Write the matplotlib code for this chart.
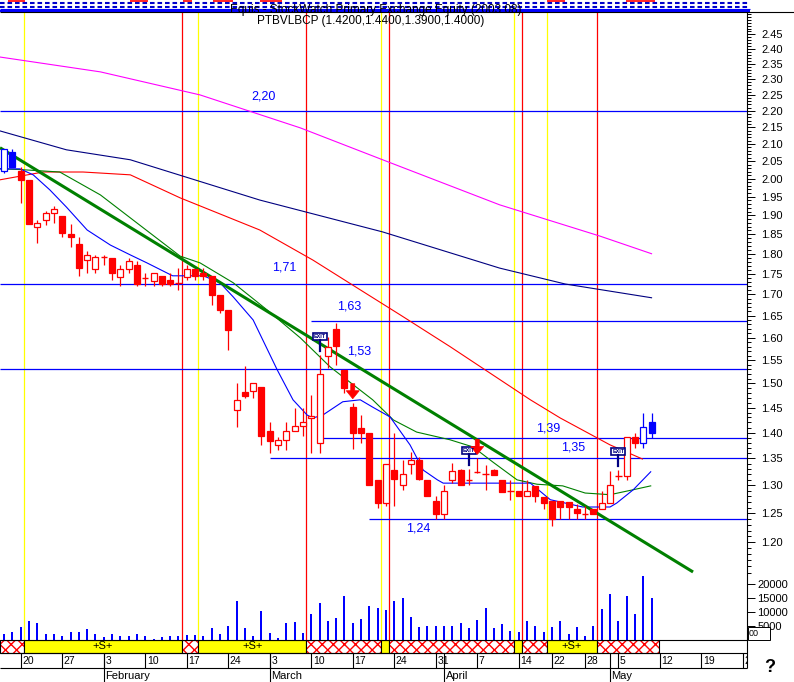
import matplotlib.pyplot as plt
import matplotlib.ticker as mticker
import matplotlib.transforms as mtransforms
from matplotlib.patches import Rectangle, Polygon
from matplotlib.lines import Line2D
import numpy as np
import pandas as pd

plt.rcParams['font.family'] = ['Liberation Sans', 'DejaVu Sans']

# ---------------- data ----------------
holidays = ["2003-04-18", "2003-04-21", "2003-05-01"]
days = [d for d in pd.bdate_range("2003-01-16", "2003-05-09") if str(d.date()) not in holidays]
future_days = list(pd.bdate_range("2003-05-12", "2003-05-30"))

opens = [2.023, 2.077, 2.023, 1.997, 1.870, 1.888, 1.905, 1.898, 1.851, 1.825,
         1.784, 1.761, 1.791, 1.789, 1.743, 1.761, 1.772, 1.739, 1.733, 1.745,
         1.735, 1.727, 1.743, 1.761, 1.752, 1.745, 1.699, 1.664, 1.445, 1.483,
         1.484, 1.493, 1.403, 1.376, 1.386, 1.403, 1.414, 1.428, 1.379, 1.559,
         1.619, 1.529, 1.452, 1.409, 1.399, 1.310, 1.269, 1.328, 1.300, 1.339,
         1.348, 1.310, 1.271, 1.248, 1.310, 1.328, 1.310, 1.325, 1.321, 1.328,
         1.310, 1.290, 1.290, 1.281, 1.298, 1.278, 1.271, 1.271, 1.270, 1.258,
         1.249, 1.258, 1.258, 1.269, 1.317, 1.317, 1.391, 1.379, 1.420]
highs = [2.085, 2.085, 2.033, 1.997, 1.888, 1.912, 1.925, 1.898, 1.877, 1.842,
         1.807, 1.796, 1.797, 1.789, 1.772, 1.789, 1.782, 1.753, 1.753, 1.745,
         1.753, 1.764, 1.772, 1.761, 1.764, 1.745, 1.699, 1.664, 1.500, 1.537,
         1.500, 1.493, 1.420, 1.392, 1.420, 1.449, 1.449, 1.476, 1.561, 1.602,
         1.632, 1.529, 1.460, 1.435, 1.400, 1.310, 1.339, 1.399, 1.347, 1.363,
         1.353, 1.310, 1.280, 1.300, 1.341, 1.330, 1.331, 1.350, 1.337, 1.330,
         1.310, 1.310, 1.290, 1.310, 1.298, 1.278, 1.271, 1.271, 1.270, 1.266,
         1.262, 1.258, 1.290, 1.327, 1.328, 1.391, 1.400, 1.440, 1.440]
lows = [2.017, 2.033, 1.934, 1.877, 1.827, 1.873, 1.879, 1.842, 1.816, 1.745,
        1.753, 1.751, 1.772, 1.735, 1.719, 1.751, 1.719, 1.719, 1.719, 1.720,
        1.719, 1.710, 1.735, 1.735, 1.735, 1.676, 1.655, 1.572, 1.412, 1.470,
        1.470, 1.376, 1.360, 1.366, 1.366, 1.403, 1.394, 1.360, 1.360, 1.533,
        1.540, 1.480, 1.369, 1.379, 1.300, 1.260, 1.262, 1.262, 1.292, 1.320,
        1.310, 1.280, 1.240, 1.240, 1.304, 1.300, 1.300, 1.322, 1.292, 1.319,
        1.288, 1.274, 1.280, 1.281, 1.270, 1.258, 1.227, 1.240, 1.240, 1.240,
        1.240, 1.248, 1.258, 1.269, 1.310, 1.309, 1.370, 1.370, 1.390]
closes = [2.085, 2.033, 1.997, 1.877, 1.879, 1.905, 1.917, 1.853, 1.842, 1.764,
          1.796, 1.791, 1.791, 1.753, 1.761, 1.782, 1.725, 1.739, 1.753, 1.725,
          1.725, 1.727, 1.761, 1.745, 1.745, 1.699, 1.664, 1.617, 1.466, 1.474,
          1.500, 1.394, 1.384, 1.386, 1.403, 1.414, 1.421, 1.432, 1.520, 1.580,
          1.581, 1.490, 1.399, 1.399, 1.301, 1.269, 1.339, 1.311, 1.320, 1.348,
          1.311, 1.280, 1.248, 1.290, 1.327, 1.300, 1.310, 1.325, 1.321, 1.319,
          1.288, 1.290, 1.280, 1.290, 1.280, 1.269, 1.240, 1.261, 1.261, 1.250,
          1.249, 1.248, 1.269, 1.300, 1.317, 1.391, 1.379, 1.411, 1.400]
volume = [1800, 2600, 4600, 6800, 5900, 1800, 1800, 1400, 2600, 2600,
          3800, 1800, 1000, 1800, 1100, 1400, 1800, 1100, 300, 1000,
          1400, 1100, 1500, 1500, 1100, 4100, 1900, 5000, 14000, 4300,
          1100, 10100, 2200, 600, 5800, 6200, 2200, 9000, 13000, 6800,
          7800, 15800, 5800, 7400, 12200, 11400, 10500, 14000, 15100, 8000,
          4600, 5000, 5000, 5000, 5000, 5800, 4200, 7100, 11400, 4200,
          5400, 3200, 2600, 6500, 4800, 2600, 4600, 6800, 1800, 4600,
          1400, 4800, 11000, 16500, 6800, 15800, 9300, 22800, 15100]
blue_bars = [0, 1, 77, 78]

# moving averages (bar position, price)
ma_blue_x = [-0.5, 1.9, 3.5, 5.5, 7.5, 10, 12.8, 15.2, 17.2, 20.3, 24, 26, 27.6, 30, 32.9, 34.8,
             36.5, 37.2, 38.4, 40.8, 42.9, 44.4, 46.5, 48.9, 50.5, 52.2, 52.9, 63.4, 65.8, 69.7,
             73, 73.8, 75.8, 77.9]
ma_blue = [2.028, 2.028, 2.011, 1.969, 1.922, 1.861, 1.822, 1.797, 1.777, 1.745, 1.745, 1.728,
           1.694, 1.640, 1.529, 1.466, 1.435, 1.429, 1.435, 1.462, 1.466, 1.451, 1.431, 1.376,
           1.328, 1.310, 1.304, 1.304, 1.274, 1.261, 1.261, 1.268, 1.292, 1.325]
ma_green_x = [-0.5, 1.9, 6.7, 11.6, 15.2, 21.2, 23.6, 27.6, 31.7, 35.7, 39.3, 42.9, 44.4, 46.9,
              49.7, 53.7, 56.5, 58.9, 61.8, 64.2, 67.3, 70, 73, 75.8, 77.9]
ma_green = [2.028, 2.026, 2.019, 1.955, 1.893, 1.794, 1.777, 1.728, 1.663, 1.599, 1.535, 1.486,
            1.466, 1.425, 1.401, 1.386, 1.372, 1.343, 1.310, 1.302, 1.299, 1.286, 1.283, 1.292,
            1.299]
ma_red_x = [-0.5, 4.7, 9.5, 15.2, 21.2, 30.8, 37.2, 42.9, 47.7, 53.7, 63.4, 67, 73, 76.9]
ma_red = [1.997, 2.019, 2.019, 2.011, 1.947, 1.861, 1.784, 1.711, 1.652, 1.580, 1.466, 1.429,
          1.376, 1.349]
ma_navy_x = [-0.5, 7.5, 15.2, 30.8, 45.6, 59.7, 67.6, 78]
ma_navy = [2.139, 2.083, 2.054, 1.941, 1.856, 1.764, 1.725, 1.692]
ma_mag_x = [-0.5, 11.6, 23.6, 35.7, 45.6, 59.7, 71.8, 78]
ma_mag = [2.373, 2.324, 2.250, 2.148, 2.054, 1.928, 1.845, 1.800]

trend_x = [-0.5, 83]
trend_y = [2.089, 1.151]

levels = [2.20, 1.725, 1.637, 1.53, 1.39, 1.35, 1.24]
level_names = ["2,20", "1,71", "1,63", "1,53", "1,39", "1,35", "1,24"]
level_from = [-0.5, -0.5, 37, -0.5, 38, 32, 44]

buy_bars = [3, 24, 46, 62, 66]
sell_bars = [22, 37, 47, 63, 72]
exit_bars = [38, 56, 74]
arrow_bars = [42, 57]

# ---------------- layout ----------------
W, H = 794, 682
RIGHT = 747
RED, BLUE, NAVY, YEL = '#ff0000', '#0000ff', '#000080', '#ffff00'
fig = plt.figure(figsize=(W / 100, H / 100), dpi=100)


def box(x0, y0, x1, y1):
    return [x0 / W, 1 - y1 / H, (x1 - x0) / W, (y1 - y0) / H]


n = len(days)
idx = np.arange(n)
XL = (-0.5, 89.5)

ax = fig.add_axes(box(0, 12, RIGHT, 639.5))
ax.set_yscale('log')

# signal lines
for b in buy_bars:
    ax.axvline(b - 0.6, color=YEL, lw=0.9, zorder=1)
for b in sell_bars:
    ax.axvline(b - 0.6, color=RED, lw=0.9, zorder=1)

# support / resistance lines
label_x = [31.2, 33.8, 41.6, 42.8, 65.5, 68.5, 49.9]
label_dy = [14, 16.5, 14.5, 18, 9, 11, -10]
for lv, name, x0, lx, dy in zip(levels, level_names, level_from, label_x, label_dy):
    ax.hlines(lv, x0, XL[1], color=BLUE, lw=0.9, zorder=2)
    ax.annotate(name, (lx, lv), xytext=(0, dy), textcoords='offset pixels',
                ha='center', va='center', color=BLUE, fontsize=9)

# moving averages and trend line
ax.plot(ma_mag_x, ma_mag, color='#ff00ff', lw=0.8, zorder=3)
ax.plot(ma_navy_x, ma_navy, color=NAVY, lw=0.8, zorder=3)
ax.plot(ma_red_x, ma_red, color=RED, lw=0.8, zorder=3)
ax.plot(ma_green_x, ma_green, color='#008000', lw=0.8, zorder=3)
ax.plot(ma_blue_x, ma_blue, color=BLUE, lw=0.8, zorder=3)
ax.plot(trend_x, trend_y, color='#008000', lw=2.2, zorder=3, solid_capstyle='butt')

# candles
o, h, l, c = map(np.array, (opens, highs, lows, closes))
cols = np.where(np.isin(idx, blue_bars), BLUE, RED)
ax.vlines(idx, l, h, colors=cols, lw=0.9, zorder=5)
for i in idx:
    if abs(c[i] - o[i]) < 0.0015:
        ax.hlines(o[i], i - 0.38, i + 0.38, colors=cols[i], lw=1.0, zorder=6)
    else:
        filled = c[i] < o[i]
        ax.bar(i, abs(c[i] - o[i]), bottom=min(o[i], c[i]), width=0.72,
               color=cols[i] if filled else 'white', edgecolor=cols[i], lw=0.9, zorder=6)

ax.set_xlim(*XL)
ax.set_ylim(1.0468, 2.528)

major = np.round(np.arange(1.20, 2.451, 0.05), 2)
minor = np.round(np.arange(1.15, 2.53, 0.01), 2)
ax.yaxis.set_major_locator(mticker.FixedLocator(major))
ax.yaxis.set_minor_locator(mticker.FixedLocator(minor))
ax.yaxis.set_major_formatter(mticker.FixedFormatter([f"{v:.2f}" for v in major]))
ax.yaxis.set_minor_formatter(mticker.NullFormatter())
ax.yaxis.tick_right()
ax.tick_params(axis='y', which='major', direction='out', length=5.5, width=0.7, pad=5, labelsize=8)
ax.tick_params(axis='y', which='minor', direction='out', length=2.8, width=0.7)
ax.set_xticks([])
for s in ['left', 'top', 'bottom']:
    ax.spines[s].set_visible(False)
ax.spines['right'].set_linewidth(0.8)

# volume overlay
axv = fig.add_axes(box(0, 12, RIGHT, 639.5))
axv.patch.set_visible(False)
axv.bar(idx, volume, width=0.25, color=BLUE, zorder=3)
axv.set_xlim(*XL)
axv.set_ylim(0, 627.5 * 5000 / 13.9)
axv.set_xticks([])
axv.yaxis.tick_right()
axv.set_yticks([5000, 10000, 15000, 20000])
axv.tick_params(axis='y', direction='out', length=5.5, width=0.7, pad=2, labelsize=8)
for s in axv.spines.values():
    s.set_visible(False)

# signal markers (pixel offsets from the bar high)
ident = mtransforms.IdentityTransform()
for b in exit_bars:
    x0, y0 = ax.transData.transform((b, highs[b]))
    fig.add_artist(Line2D([x0, x0], [y0 + 4, y0 + 15], color=NAVY, lw=1.6, transform=ident))
    fig.add_artist(Rectangle((x0 - 7, y0 + 15), 14, 7, fc='white', ec=NAVY, lw=1.2, transform=ident))
    fig.text(x0, y0 + 18.5, 'EXIT', transform=ident, ha='center', va='center',
             fontsize=4, color=NAVY, fontweight='bold')
for b in arrow_bars:
    x0, y0 = ax.transData.transform((b, highs[b]))
    pts = [(x0, y0 + 4), (x0 - 6.5, y0 + 12), (x0 - 2, y0 + 12), (x0 - 2, y0 + 19),
           (x0 + 2, y0 + 19), (x0 + 2, y0 + 12), (x0 + 6.5, y0 + 12)]
    fig.add_artist(Polygon(pts, closed=True, fc=RED, ec=RED, lw=0.5, transform=ident))

# little box in the corner of the volume scale
fig.add_artist(Rectangle((748, H - 640), 22, 13, fc='white', ec='black', lw=0.7, transform=ident))
fig.text(749, H - 634, '00', transform=ident, fontsize=6.5, va='center')
fig.text(770 / W, 1 - 668 / H, '?', fontsize=13, fontweight='bold', ha='center', va='center')

# ---------------- bottom strip: signal band + dates ----------------
axs = fig.add_axes(box(0, 639.5, RIGHT, H))
axs.set_xlim(*XL)
axs.set_ylim(H - 639.5, 0)
axs.axis('off')
BAND, ROW = 13.8, 28.8

events = sorted([(b - 0.6, 'buy') for b in buy_bars] + [(b - 0.6, 'sell') for b in sell_bars])
edges = [XL[0]] + [e[0] for e in events] + [n - 0.1]
kinds = ['sell'] + [e[1] for e in events]
for x0, x1, k in zip(edges[:-1], edges[1:], kinds):
    if k == 'buy':
        axs.add_patch(Rectangle((x0, 0), x1 - x0, BAND, fc=YEL, ec='black', lw=0.8))
        if x1 - x0 > 3:
            axs.text((x0 + x1) / 2, BAND / 2, '+S+', ha='center', va='center', fontsize=8)
    else:
        axs.add_patch(Rectangle((x0, 0), x1 - x0, BAND, fc='white', ec=RED, hatch='xxx', lw=0))
        axs.add_patch(Rectangle((x0, 0), x1 - x0, BAND, fc='none', ec='black', lw=0.8))

axs.hlines([0, BAND, ROW], XL[0], XL[1], color='black', lw=0.8, clip_on=False)
axs.vlines(XL[1], 0, ROW, color='black', lw=0.8, clip_on=False)

all_days = days + future_days
week_pos, week_lab, month_pos, month_lab = [], [], [], []
for k in range(1, len(all_days)):
    d, p = all_days[k], all_days[k - 1]
    if d.isocalendar()[1] != p.isocalendar()[1]:
        week_pos.append(k)
        week_lab.append(str(d.day))
    if d.month != p.month:
        month_pos.append(k)
        month_lab.append(d.strftime('%B'))

axs.vlines(week_pos, BAND, ROW, color='black', lw=0.8)
axs.vlines(month_pos, BAND, H - 639.5, color='black', lw=0.8)
shift = mtransforms.offset_copy(axs.transData, fig=fig, x=1.5, y=0, units='dots')
for p, lab in zip(week_pos, week_lab):
    axs.text(p, (BAND + ROW) / 2, lab, transform=shift, ha='left', va='center',
             fontsize=7.5, clip_on=True)
for p, lab in zip(month_pos, month_lab):
    axs.text(p, (ROW + H - 639.5) / 2 + 0.5, lab, transform=shift, ha='left', va='center',
             fontsize=8)

# ---------------- header ----------------
axh = fig.add_axes(box(0, 0, W, 12))
axh.set_xlim(0, W)
axh.set_ylim(12, 0)
axh.axis('off')
axh.hlines([2.8, 6.6], 0, 750, colors='#0000cc', lw=1.5, linestyles=[(0, (2.2, 1.4))])
for a, b in [(8, 25), (130, 148), (183, 192), (213, 233), (260, 282), (547, 565), (626, 655)]:
    axh.hlines(0.8, a, b, colors=RED, lw=1.2)
axh.hlines(9.0, 0, 750, colors=BLUE, lw=0.8)
axh.hlines(10.8, 0, 750, colors=BLUE, lw=1.6)
axh.hlines(11.9, 0, W, colors='black', lw=0.8, clip_on=False)
fig.text(230 / W, 1 - 10 / H, 'Equis - StockWatch Primary Exchange Equity (2003.08)', fontsize=8.5,
         va='center')

title = f"PTBVLBCP ({opens[-1]:.4f},{highs[-1]:.4f},{lows[-1]:.4f},{closes[-1]:.4f})"
fig.text(371 / W, 1 - 21 / H, title, ha='center', va='center', fontsize=8.5)

fig.savefig('out.png', dpi=100)
